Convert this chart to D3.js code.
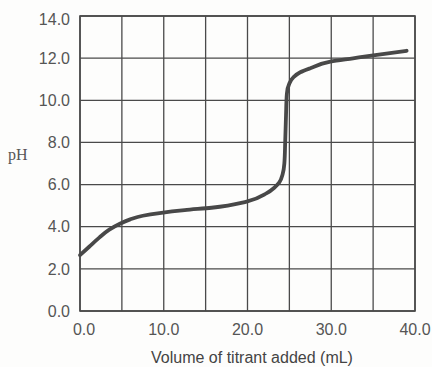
<!DOCTYPE html>
<html><head><meta charset="utf-8">
<script src="https://cdn.jsdelivr.net/npm/d3@7"></script>
<style>html,body{margin:0;padding:0;background:#fdfdfc;}svg{display:block;}</style>
</head><body>
<script>
const volume = [0, 1.1, 2.3, 3.5, 4.7, 6.0, 7.5, 9.5, 12.5, 15.7, 19.9, 22.3, 23.2, 23.8, 24.2, 24.4, 24.5, 24.6, 24.7, 25.0, 25.5, 26.3, 27.5, 29.9, 32.6, 34.8, 39.0];
const pH =     [2.65, 3.05, 3.48, 3.86, 4.13, 4.35, 4.52, 4.65, 4.79, 4.90, 5.19, 5.59, 5.85, 6.1, 6.5, 7.0, 8.0, 9.3, 10.3, 10.8, 11.1, 11.33, 11.52, 11.83, 11.99, 12.12, 12.35];
const xGrid = [0, 5, 10, 15, 20, 25, 30, 35, 40];
const xTickValues = [0, 10, 20, 30, 40];
const yTickValues = [0, 2, 4, 6, 8, 10, 12, 14];
const xTitle = "Volume of titrant added (mL)";
const yTitle = "pH";

const W = 432, H = 367;
const m = {left: 80, right: 17, top: 16, bottom: 56};
const svg = d3.select("body").append("svg").attr("width", W).attr("height", H);
const x = d3.scaleLinear().domain([0, 40]).range([m.left, W - m.right]);
const y = d3.scaleLinear().domain([0, 14]).range([H - m.bottom, m.top]);
const ink = "#4a4a4a";

// grid
svg.append("g").selectAll("line").data(xGrid).join("line")
  .attr("x1", d => x(d)).attr("x2", d => x(d))
  .attr("y1", y(0)).attr("y2", y(14))
  .attr("stroke", ink).attr("stroke-width", 1.3);
svg.append("g").selectAll("line").data(yTickValues).join("line")
  .attr("x1", x(0)).attr("x2", x(40))
  .attr("y1", d => y(d)).attr("y2", d => y(d))
  .attr("stroke", ink).attr("stroke-width", 1.3);
svg.append("rect").attr("x", x(0)).attr("y", y(14))
  .attr("width", x(40) - x(0)).attr("height", y(0) - y(14))
  .attr("fill", "none").attr("stroke", ink).attr("stroke-width", 1.6);

// y tick labels
svg.append("g").selectAll("text").data(yTickValues).join("text")
  .attr("x", m.left - 10).attr("y", d => y(d))
  .attr("dy", d => d === 14 ? "0.55em" : "0.36em")
  .attr("text-anchor", "end")
  .attr("font-family", "Liberation Sans, Arial, sans-serif").attr("font-size", 16)
  .attr("fill", "#555").text(d => d.toFixed(1));

// x tick labels
svg.append("g").selectAll("text").data(xTickValues).join("text")
  .attr("x", d => x(d) + (d === 0 ? 4 : 0)).attr("y", y(0) + 24)
  .attr("text-anchor", "middle")
  .attr("font-family", "Liberation Sans, Arial, sans-serif").attr("font-size", 16)
  .attr("fill", "#555").text(d => d.toFixed(1));

// titles
svg.append("text").attr("x", 252).attr("y", 363).attr("text-anchor", "middle")
  .attr("font-family", "Liberation Sans, Arial, sans-serif").attr("font-size", 16)
  .attr("fill", "#444").text(xTitle);
svg.append("text").attr("x", 8).attr("y", 160)
  .attr("font-family", "Liberation Serif, Times New Roman, serif").attr("font-size", 16)
  .attr("fill", "#555").text(yTitle);

// curve
const pts = volume.map((v, i) => [v, pH[i]]);
const line = d3.line().x(d => x(d[0])).y(d => y(d[1])).curve(d3.curveMonotoneY);
svg.append("path").attr("d", line(pts)).attr("fill", "none")
  .attr("stroke", "#484848").attr("stroke-width", 3.8).attr("stroke-linecap", "round");
</script>
</body></html>
